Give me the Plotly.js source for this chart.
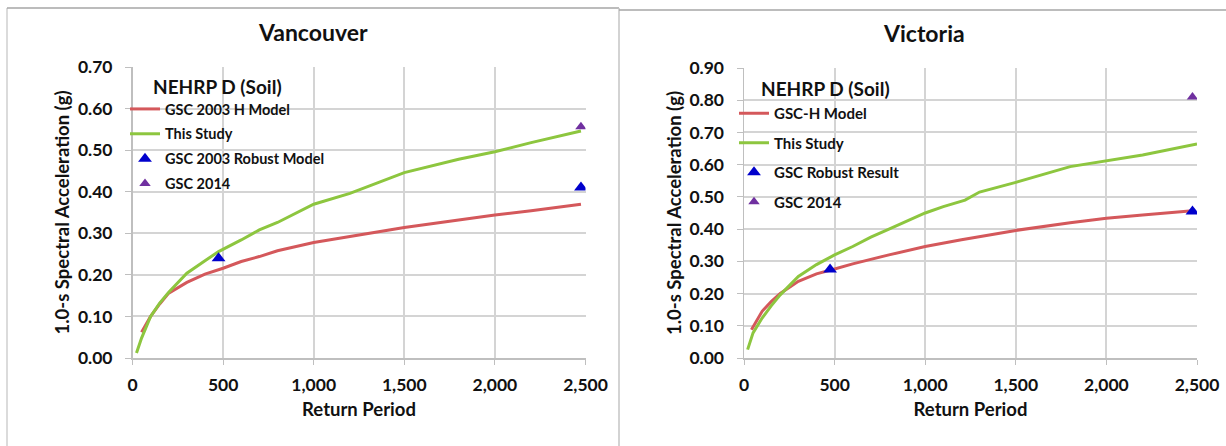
<!DOCTYPE html>
<html>
<head>
<meta charset="utf-8">
<script src="https://cdn.plot.ly/plotly-3.0.1.min.js"></script>
<style>
  html, body { margin: 0; padding: 0; background: #ffffff; }
  #chart { width: 1226px; height: 446px; }
</style>
</head>
<body>
<div id="chart"></div>
<script>
// ---------- Data ----------
const vanTitle = "Vancouver";
const vicTitle = "Victoria";
const soilLabel = "NEHRP D (Soil)";

// Vancouver
const vanGscH_x = [50, 100, 150, 200, 300, 400, 500, 600, 700, 800, 1000, 1200, 1500, 1800, 2000, 2200, 2475];
const vanGscH_y = [0.062, 0.100, 0.130, 0.156, 0.182, 0.202, 0.216, 0.232, 0.244, 0.258, 0.278, 0.292, 0.314, 0.332, 0.344, 0.354, 0.370];
const vanStudy_x = [22, 50, 100, 150, 200, 300, 400, 475, 600, 700, 800, 1000, 1200, 1500, 1800, 2000, 2200, 2475];
const vanStudy_y = [0.012, 0.048, 0.100, 0.132, 0.158, 0.204, 0.234, 0.256, 0.284, 0.308, 0.326, 0.370, 0.396, 0.446, 0.478, 0.496, 0.518, 0.546];
const vanRobust_x = [475, 2475];
const vanRobust_y = [0.240, 0.410];
const vanGsc2014_x = [2475];
const vanGsc2014_y = [0.556];

// Victoria
const vicGscH_x = [41, 100, 150, 200, 300, 400, 500, 600, 800, 1000, 1200, 1500, 1800, 2000, 2200, 2475];
const vicGscH_y = [0.088, 0.145, 0.175, 0.200, 0.238, 0.261, 0.276, 0.292, 0.320, 0.346, 0.367, 0.396, 0.420, 0.434, 0.444, 0.457];
const vicStudy_x = [20, 50, 100, 150, 200, 300, 400, 500, 600, 700, 800, 1000, 1100, 1220, 1300, 1500, 1800, 2000, 2200, 2500];
const vicStudy_y = [0.026, 0.078, 0.124, 0.162, 0.196, 0.253, 0.290, 0.320, 0.346, 0.375, 0.400, 0.450, 0.470, 0.490, 0.515, 0.545, 0.594, 0.613, 0.630, 0.664];
const vicRobust_x = [475, 2475];
const vicRobust_y = [0.275, 0.455];
const vicGsc2014_x = [2475];
const vicGsc2014_y = [0.810];

// Series names
const vanNames = ["GSC 2003 H Model", "This Study", "GSC 2003 Robust Model", "GSC 2014"];
const vicNames = ["GSC-H Model", "This Study", "GSC Robust Result", "GSC 2014"];

// Axis labels
const xTitle = "Return Period";
const yTitle = "1.0-s Spectral Acceleration (g)";

// ---------- Styling ----------
const W = 1226, H = 446;
const px = v => v / W;           // pixel -> paper x
const py = v => 1 - v / H;       // pixel -> paper y
const FONT = "Lato, 'Open Sans', sans-serif";
const RED = "#D4585B", GREEN = "#8DC63F", BLUE = "#0000CC", PURPLE = "#7030A0";
const GRID = "#D4D4D4";

function lineTrace(x, y, name, color, xa, ya, leg, grp) {
  return { type: "scatter", mode: "lines", x: x, y: y, name: name,
    line: { color: color, width: 3 }, xaxis: xa, yaxis: ya, legend: leg, legendgroup: grp };
}
function markTrace(x, y, name, color, size, xa, ya, leg, grp) {
  return { type: "scatter", mode: "markers", x: x, y: y, name: name,
    marker: { symbol: "triangle-up", color: color, size: size }, xaxis: xa, yaxis: ya, legend: leg, legendgroup: grp };
}

const data = [
  lineTrace(vanGscH_x, vanGscH_y, vanNames[0], RED, "x", "y", "legend", "a1"),
  lineTrace(vanStudy_x, vanStudy_y, vanNames[1], GREEN, "x", "y", "legend", "a2"),
  markTrace(vanRobust_x, vanRobust_y, vanNames[2], BLUE, 12, "x", "y", "legend", "a3"),
  markTrace(vanGsc2014_x, vanGsc2014_y, vanNames[3], PURPLE, 10, "x", "y", "legend", "a4"),
  lineTrace(vicGscH_x, vicGscH_y, vicNames[0], RED, "x2", "y2", "legend2", "b1"),
  lineTrace(vicStudy_x, vicStudy_y, vicNames[1], GREEN, "x2", "y2", "legend2", "b2"),
  markTrace(vicRobust_x, vicRobust_y, vicNames[2], BLUE, 12, "x2", "y2", "legend2", "b3"),
  markTrace(vicGsc2014_x, vicGsc2014_y, vicNames[3], PURPLE, 10, "x2", "y2", "legend2", "b4")
];

function xAxis(domain, anchor) {
  return {
    domain: domain, anchor: anchor, range: [0, 2500], dtick: 500, tick0: 0,
    tickformat: ",d", showgrid: true, gridcolor: GRID, gridwidth: 2,
    showline: true, linecolor: "#BFBFBF", linewidth: 1.5,
    ticks: "outside", ticklen: 5, tickcolor: "#BFBFBF",
    zeroline: false, ticklabelstandoff: 5,
    tickfont: { family: FONT, size: 17.5, color: "#111", weight: "bold" },
    title: { text: xTitle, standoff: 9, font: { family: FONT, size: 18.5, color: "#111", weight: "bold" } }
  };
}
function yAxis(domain, anchor, top) {
  return {
    domain: domain, anchor: anchor, range: [0, top], dtick: 0.1, tick0: 0,
    tickformat: ".2f", showgrid: true, gridcolor: GRID, gridwidth: 2,
    showline: true, linecolor: "#BFBFBF", linewidth: 1.5,
    ticks: "outside", ticklen: 6, tickcolor: "#BFBFBF",
    zeroline: false, ticklabelstandoff: 9,
    tickfont: { family: FONT, size: 17.5, color: "#111", weight: "bold" },
    title: { text: yTitle, standoff: 3, font: { family: FONT, size: 18.5, color: "#111", weight: "bold" } }
  };
}

const legendCommon = {
  bgcolor: "rgba(0,0,0,0)", borderwidth: 0, xanchor: "left", yanchor: "top",
  traceorder: "grouped", itemwidth: 30
};

const layout = {
  width: W, height: H, autosize: false,
  margin: { l: 0, r: 0, t: 0, b: 0 },
  paper_bgcolor: "#ffffff", plot_bgcolor: "rgba(0,0,0,0)",
  showlegend: true,
  xaxis: xAxis([px(132.5), px(585.5)], "y"),
  yaxis: yAxis([py(358), py(67)], "x", 0.7),
  xaxis2: xAxis([px(744), px(1197)], "y2"),
  yaxis2: yAxis([py(358), py(68)], "x2", 0.9),
  legend: Object.assign({}, legendCommon, {
    x: px(125), y: py(93), tracegroupgap: 3,
    font: { family: FONT, size: 14.5, color: "#111", weight: "bold" }
  }),
  legend2: Object.assign({}, legendCommon, {
    x: px(734), y: py(97), tracegroupgap: 7,
    font: { family: FONT, size: 15, color: "#111", weight: "bold" }
  }),
  shapes: [
    // white boxes behind legends (hide gridlines like the original)
    { type: "rect", xref: "paper", yref: "paper", x0: px(134), x1: px(327), y0: py(193), y1: py(66), fillcolor: "#ffffff", line: { width: 0 }, layer: "between" },
    { type: "rect", xref: "paper", yref: "paper", x0: px(746), x1: px(900), y0: py(217), y1: py(67), fillcolor: "#ffffff", line: { width: 0 }, layer: "between" },
    // panel frames
    { type: "line", xref: "paper", yref: "paper", x0: px(7), x1: px(7), y0: py(8), y1: 0, line: { color: "#CFCFCF", width: 1.5 } },
    { type: "line", xref: "paper", yref: "paper", x0: px(7), x1: px(619), y0: py(8), y1: py(8), line: { color: "#A6A6A6", width: 1.5 } },
    { type: "line", xref: "paper", yref: "paper", x0: px(619), x1: px(619), y0: py(8), y1: 0, line: { color: "#C4C4C4", width: 1.5 } },
    { type: "line", xref: "paper", yref: "paper", x0: px(619), x1: 1, y0: py(10), y1: py(10), line: { color: "#A6A6A6", width: 1.5 } }
  ],
  annotations: [
    { text: vanTitle, xref: "paper", yref: "paper", x: px(313), y: py(32), xanchor: "center", yanchor: "middle", showarrow: false,
      font: { family: FONT, size: 23, color: "#111", weight: "bold" } },
    { text: vicTitle, xref: "paper", yref: "paper", x: px(924), y: py(33), xanchor: "center", yanchor: "middle", showarrow: false,
      font: { family: FONT, size: 23, color: "#111", weight: "bold" } },
    { text: soilLabel, xref: "paper", yref: "paper", x: px(151), y: py(86), xanchor: "left", yanchor: "middle", showarrow: false,
      font: { family: FONT, size: 19, color: "#111", weight: "bold" } },
    { text: soilLabel, xref: "paper", yref: "paper", x: px(759), y: py(88), xanchor: "left", yanchor: "middle", showarrow: false,
      font: { family: FONT, size: 19, color: "#111", weight: "bold" } }
  ]
};

Plotly.newPlot("chart", data, layout, { displayModeBar: false, staticPlot: true });
</script>
</body>
</html>
